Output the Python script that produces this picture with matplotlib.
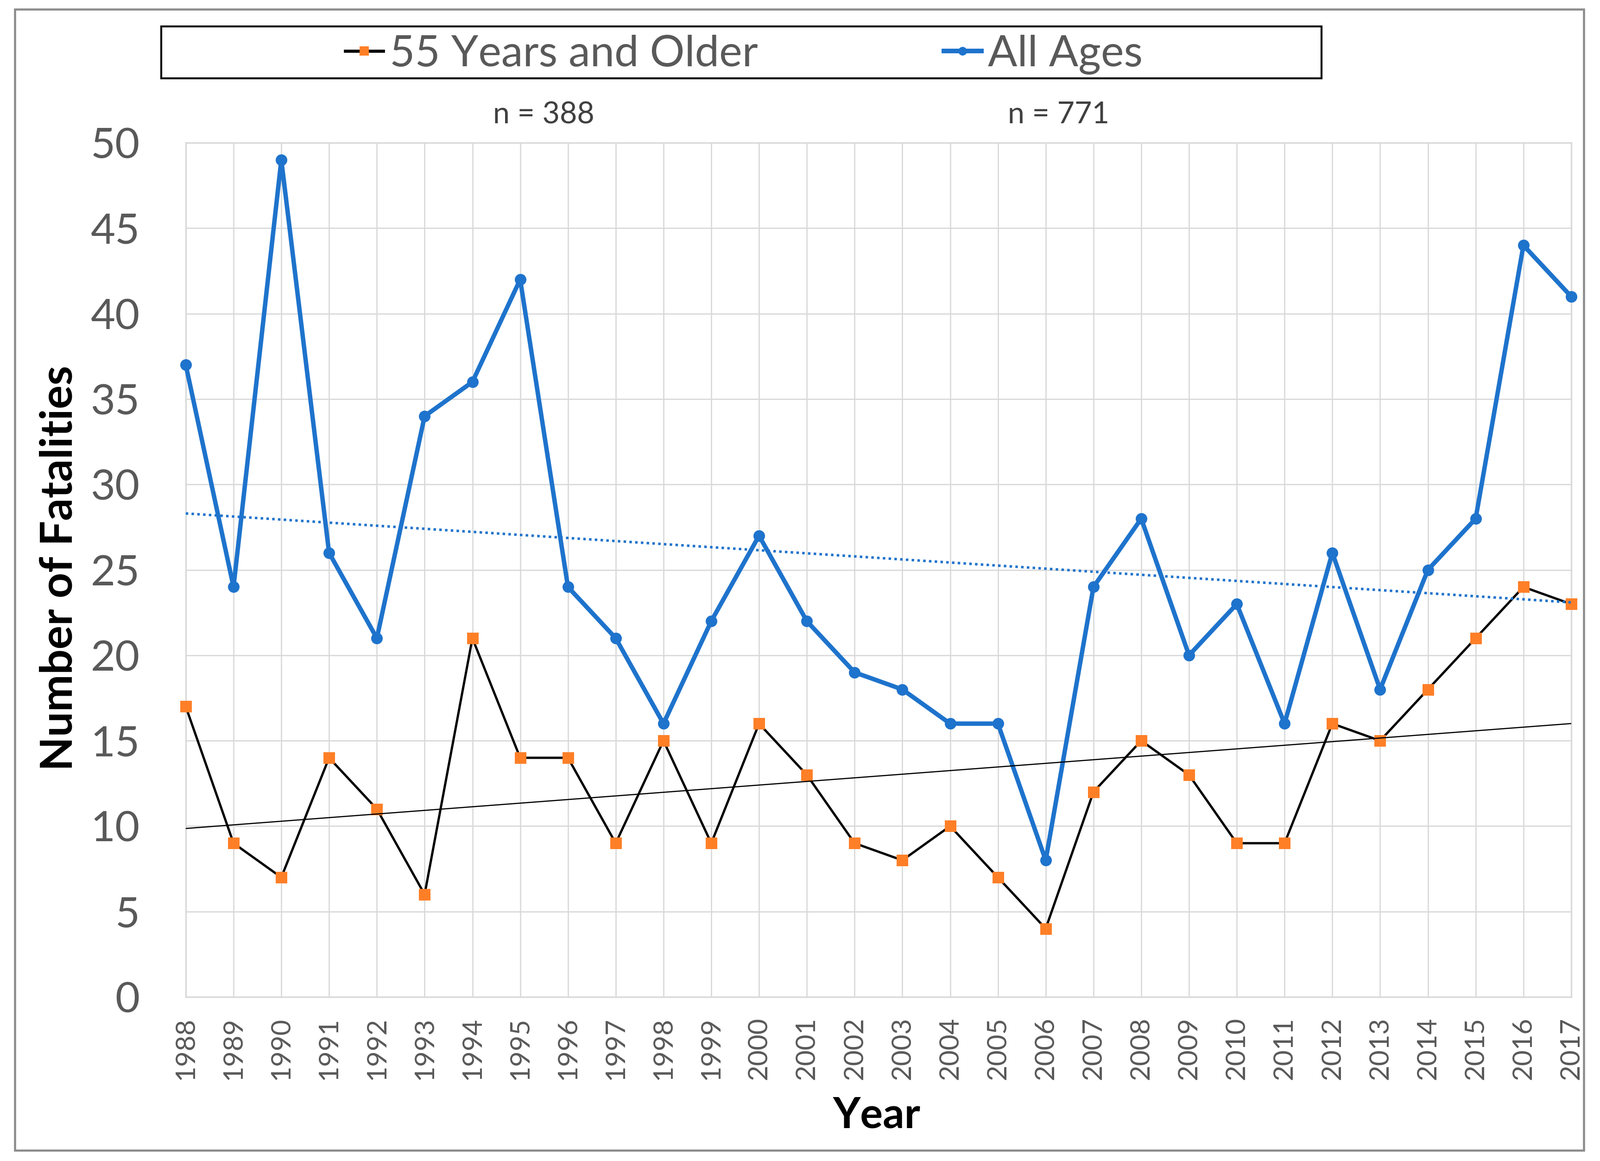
import numpy as np
import matplotlib
matplotlib.use("Agg")
import matplotlib.pyplot as plt
from matplotlib.patches import Rectangle
from matplotlib.lines import Line2D

# data
years = list(range(1988, 2018))
all_ages = [37, 24, 49, 26, 21, 34, 36, 42, 24, 21, 16, 22, 27, 22, 19,
            18, 16, 16, 8, 24, 28, 20, 23, 16, 26, 18, 25, 28, 44, 41]
older55 = [17, 9, 7, 14, 11, 6, 21, 14, 14, 9, 15, 9, 16, 13, 9,
           8, 10, 7, 4, 12, 15, 13, 9, 9, 16, 15, 18, 21, 24, 23]
yticks = [0, 5, 10, 15, 20, 25, 30, 35, 40, 45, 50]
legend_labels = ["55 Years and Older", "All Ages"]
n_labels = ["n = " + str(sum(older55)), "n = " + str(sum(all_ages))]

blue = '#1E73CC'
orange = '#FF7F27'
gray_txt = '#595959'
grid_col = '#d9d9d9'

plt.rcParams['font.family'] = ['Lato', 'DejaVu Sans']

fig = plt.figure(figsize=(11.51, 8.35), dpi=300)
ax = fig.add_axes([0.1161, 0.1413, 0.982 - 0.1161, 0.877 - 0.1413])

x = np.array(years)

ax.plot(x, older55, color='black', lw=1.2, marker='s', markersize=6,
        markerfacecolor=orange, markeredgewidth=0, zorder=3, clip_on=False)
ax.plot(x, all_ages, color=blue, lw=2.3, marker='o', markersize=6,
        markerfacecolor=blue, markeredgewidth=0, zorder=3, clip_on=False)

# linear trend lines
p1 = np.polyfit(x, older55, 1)
p2 = np.polyfit(x, all_ages, 1)
ax.plot(x, np.polyval(p1, x), color='black', lw=0.6, zorder=4)
ax.plot(x, np.polyval(p2, x), color=blue, lw=1.3, linestyle=(0, (1, 1.3)), zorder=4)

ax.set_xlim(1988, 2017)
ax.set_ylim(0, 50)
ax.set_xticks(years)
ax.set_xticklabels([str(y) for y in years], rotation=90, fontsize=14, color=gray_txt)
ax.set_yticks(yticks)
ax.set_yticklabels([str(v) for v in yticks], fontsize=22, color=gray_txt)
ax.tick_params(axis='both', length=0)
ax.tick_params(axis='y', pad=23.8)
ax.tick_params(axis='x', pad=10.5)
ax.grid(True, color=grid_col, lw=0.65)
ax.set_axisbelow(True)
for s in ax.spines.values():
    s.set_color(grid_col)
    s.set_linewidth(0.8)

fig.text(0.037, 0.5106, "Number of Fatalities", rotation=90, ha='center', va='center',
         fontsize=23, fontweight='bold', color='black')
fig.text(0.548, 0.039, "Year", ha='center', va='center',
         fontsize=22, fontweight='bold', color='black')

fig.text(0.3399, 0.901, n_labels[0], ha='center', va='center', fontsize=15.5, color='#404040')
fig.text(0.6615, 0.901, n_labels[1], ha='center', va='center', fontsize=15.5, color='#404040')

# legend with its own box
handles = [Line2D([], [], color='black', lw=1.6, marker='s', markersize=5,
                  markerfacecolor=orange, markeredgewidth=0),
           Line2D([], [], color=blue, lw=2.4, marker='o', markersize=4.5,
                  markerfacecolor=blue, markeredgewidth=0)]
leg = fig.legend(handles, legend_labels, loc='center', bbox_to_anchor=(0.465, 0.953),
                 ncol=2, frameon=False, fontsize=22.5, handlelength=0.87,
                 handletextpad=0.15, columnspacing=4.28, labelcolor=gray_txt)
fig.patches.append(Rectangle((0.1008, 0.9325), 0.826 - 0.1008, 0.9772 - 0.9325,
                             transform=fig.transFigure, fill=False,
                             edgecolor='black', lw=1.0))

# outer frame
fig.patches.append(Rectangle((0.0092, 0.0092), 0.9899 - 0.0092, 0.992 - 0.0092,
                             transform=fig.transFigure, fill=False,
                             edgecolor='#8c8c8c', lw=1.1))

fig.savefig("out.png", dpi=300)
